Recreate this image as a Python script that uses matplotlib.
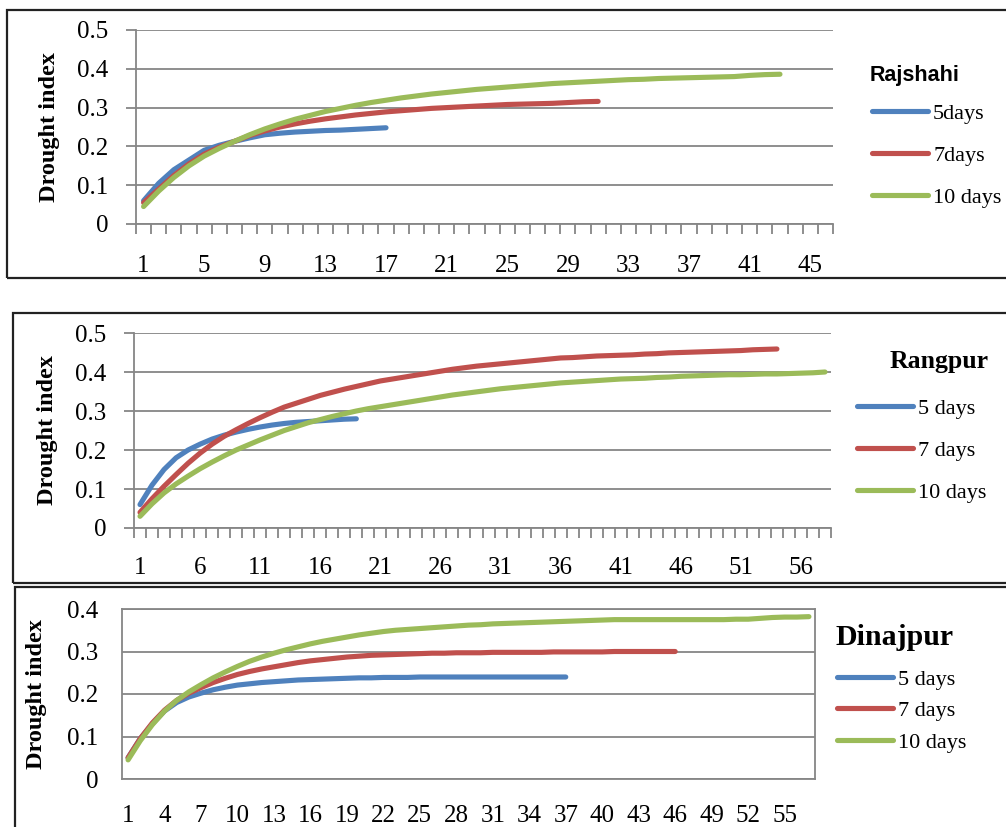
import matplotlib
matplotlib.use("Agg")
import matplotlib.pyplot as plt
from matplotlib.patches import Rectangle

# ---- data (drought index per day count) ----
raj_5 = [0.060, 0.105, 0.140, 0.165, 0.190, 0.203, 0.213, 0.222, 0.230, 0.234,
         0.237, 0.239, 0.241, 0.242, 0.244, 0.246, 0.248]
raj_7 = [0.055, 0.090, 0.125, 0.155, 0.180, 0.198, 0.213, 0.228, 0.240, 0.250,
         0.258, 0.265, 0.271, 0.276, 0.281, 0.285, 0.289, 0.292, 0.295, 0.298,
         0.300, 0.302, 0.304, 0.306, 0.308, 0.309, 0.310, 0.311, 0.313, 0.315,
         0.316]
raj_10 = [0.045, 0.085, 0.120, 0.150, 0.175, 0.195, 0.213, 0.230, 0.245, 0.258,
          0.270, 0.280, 0.290, 0.298, 0.306, 0.313, 0.319, 0.325, 0.330, 0.335,
          0.339, 0.343, 0.347, 0.350, 0.353, 0.356, 0.359, 0.362, 0.364, 0.366,
          0.368, 0.370, 0.372, 0.373, 0.375, 0.376, 0.377, 0.378, 0.379, 0.380,
          0.383, 0.385, 0.386]

rang_5 = [0.060, 0.110, 0.150, 0.180, 0.200, 0.215, 0.228, 0.238, 0.246, 0.253,
          0.259, 0.264, 0.268, 0.271, 0.273, 0.275, 0.277, 0.279, 0.280]
rang_7 = [0.040, 0.075, 0.107, 0.137, 0.166, 0.192, 0.215, 0.235, 0.252, 0.268,
          0.283, 0.297, 0.310, 0.320, 0.330, 0.340, 0.348, 0.356, 0.363, 0.370,
          0.377, 0.382, 0.387, 0.392, 0.397, 0.402, 0.407, 0.411, 0.415, 0.418,
          0.421, 0.424, 0.427, 0.430, 0.433, 0.436, 0.437, 0.439, 0.441, 0.442,
          0.443, 0.444, 0.446, 0.447, 0.449, 0.450, 0.451, 0.452, 0.453, 0.454,
          0.455, 0.457, 0.458, 0.459]
rang_10 = [0.030, 0.062, 0.090, 0.113, 0.133, 0.152, 0.169, 0.185, 0.200, 0.213,
           0.226, 0.238, 0.250, 0.260, 0.270, 0.278, 0.286, 0.293, 0.300, 0.306,
           0.311, 0.316, 0.321, 0.326, 0.331, 0.336, 0.341, 0.345, 0.349, 0.353,
           0.357, 0.360, 0.363, 0.366, 0.369, 0.372, 0.374, 0.376, 0.378, 0.380,
           0.382, 0.383, 0.384, 0.386, 0.387, 0.389, 0.390, 0.391, 0.392, 0.393,
           0.393, 0.394, 0.395, 0.395, 0.396, 0.397, 0.398, 0.400]

dina_5 = [0.050, 0.095, 0.130, 0.160, 0.180, 0.193, 0.202, 0.210, 0.216, 0.221,
          0.224, 0.227, 0.229, 0.231, 0.233, 0.234, 0.235, 0.236, 0.237, 0.238,
          0.238, 0.239, 0.239, 0.239, 0.240, 0.240, 0.240, 0.240, 0.240, 0.240,
          0.240, 0.240, 0.240, 0.240, 0.240, 0.240, 0.240]
dina_7 = [0.050, 0.095, 0.132, 0.162, 0.185, 0.202, 0.215, 0.227, 0.237, 0.246,
          0.253, 0.259, 0.264, 0.269, 0.274, 0.278, 0.281, 0.284, 0.287, 0.289,
          0.291, 0.292, 0.293, 0.294, 0.295, 0.296, 0.296, 0.297, 0.297, 0.297,
          0.298, 0.298, 0.298, 0.298, 0.298, 0.299, 0.299, 0.299, 0.299, 0.299,
          0.300, 0.300, 0.300, 0.300, 0.300, 0.300]
dina_10 = [0.045, 0.090, 0.128, 0.160, 0.185, 0.205, 0.222, 0.238, 0.252, 0.265,
           0.277, 0.287, 0.296, 0.304, 0.311, 0.318, 0.324, 0.329, 0.334, 0.339,
           0.343, 0.347, 0.350, 0.352, 0.354, 0.356, 0.358, 0.360, 0.362, 0.363,
           0.365, 0.366, 0.367, 0.368, 0.369, 0.370, 0.371, 0.372, 0.373, 0.374,
           0.375, 0.375, 0.375, 0.375, 0.375, 0.375, 0.375, 0.375, 0.375, 0.375,
           0.376, 0.376, 0.378, 0.380, 0.381, 0.381, 0.382]

raj_labels = ["5days", "7days", "10 days"]
other_labels = ["5 days", "7 days", "10 days"]

BLUE, RED, GREEN = "#4F81BD", "#C0504D", "#9BBB59"
GRID = "#868686"
W, H = 1006, 827
SERIF = "Liberation Serif"

fig = plt.figure(figsize=(W / 100, H / 100), dpi=100)
fig.patch.set_facecolor("white")


def px_axes(left, top, right, bottom):
    return fig.add_axes([left / W, 1 - bottom / H, (right - left) / W, (bottom - top) / H])


def frame(left, top, right, bottom):
    fig.patches.append(Rectangle((left / W, 1 - bottom / H), (right - left) / W,
                                 (bottom - top) / H, transform=fig.transFigure,
                                 fill=False, lw=1.6, ec="#222222"))


def panel(box, series, labels, n_cat, step, ymax, ticks_out, legend_xy, row_gap,
          title, title_xy, title_font, ylabel_x, xpad, ypad):
    ax = px_axes(*box)
    lines = []
    for vals, col, lab in zip(series, [BLUE, RED, GREEN], labels):
        xs = list(range(1, len(vals) + 1))
        ln, = ax.plot(xs, vals, color=col, lw=3.7, solid_capstyle="round", label=lab)
        lines.append(ln)
    ax.set_xlim(0.5, n_cat + 0.5)
    ax.set_ylim(0, ymax)
    ax.set_yticks([i / 10 for i in range(int(round(ymax * 10)) + 1)])
    ax.set_yticklabels(["0"] + [f"{i / 10:.1f}" for i in range(1, int(round(ymax * 10)) + 1)])
    ax.set_xticks(list(range(1, n_cat + 1, step)))
    ax.set_xticklabels([str(i) for i in range(1, n_cat + 1, step)])
    ax.grid(axis="y", color=GRID, lw=1.3)
    ax.set_axisbelow(True)
    for s in ax.spines.values():
        s.set_color(GRID)
        s.set_linewidth(1.3)
    if ticks_out:
        ax.spines["top"].set_visible(False)
        ax.spines["right"].set_visible(False)
        ax.set_xticks([i + 0.5 for i in range(0, n_cat + 1)], minor=True)
        ax.tick_params(axis="x", which="minor", length=7, width=1.3, color=GRID)
        ax.tick_params(axis="y", which="major", length=7, width=1.3, color=GRID, pad=ypad)
    else:
        ax.tick_params(axis="y", length=0, pad=ypad)
    ax.tick_params(axis="x", which="major", length=0, pad=xpad)
    for t in ax.get_xticklabels() + ax.get_yticklabels():
        t.set_fontfamily(SERIF)
        t.set_fontsize(18)
    ax.set_ylabel("Drought index", fontfamily=SERIF, fontweight="bold", fontsize=17.5,
                  va="center")
    ax.yaxis.set_label_coords(ylabel_x, 0.5)

    ax.legend(handles=lines, loc="upper left",
              bbox_to_anchor=(legend_xy[0] / W, 1 - legend_xy[1] / H),
              bbox_transform=fig.transFigure, frameon=False, borderpad=0,
              borderaxespad=0, handlelength=2.5, handletextpad=0.25,
              labelspacing=row_gap, prop={"family": SERIF, "size": 16})
    fig.text(title_xy[0] / W, 1 - title_xy[1] / H, title, ha="left", va="baseline",
             **title_font)
    return ax


# Rajshahi
frame(7, 10, 1012, 278)
panel((136, 30, 833, 224), [raj_5, raj_7, raj_10], raj_labels, 46, 4, 0.5, True,
      (872, 103), 0.97, "Rajshahi", (870, 81),
      {"family": "Liberation Sans", "weight": "bold", "size": 15.5},
      -0.1234, 22, 13)

# Rangpur
frame(13, 313, 1012, 583)
panel((134, 333, 831, 528), [rang_5, rang_7, rang_10], other_labels, 58, 5, 0.5, True,
      (857, 398), 0.97, "Rangpur", (890, 368),
      {"family": SERIF, "weight": "bold", "size": 18.5},
      -0.1248, 21, 13)

# Dinajpur
frame(15, 587, 1012, 840)
panel((122, 609, 815, 779), [dina_5, dina_7, dina_10], other_labels, 57, 3, 0.4, False,
      (837, 669), 0.5, "Dinajpur", (835, 645),
      {"family": SERIF, "weight": "bold", "size": 21.5},
      -0.1227, 19, 17)

fig.savefig("out.png", dpi=100)
